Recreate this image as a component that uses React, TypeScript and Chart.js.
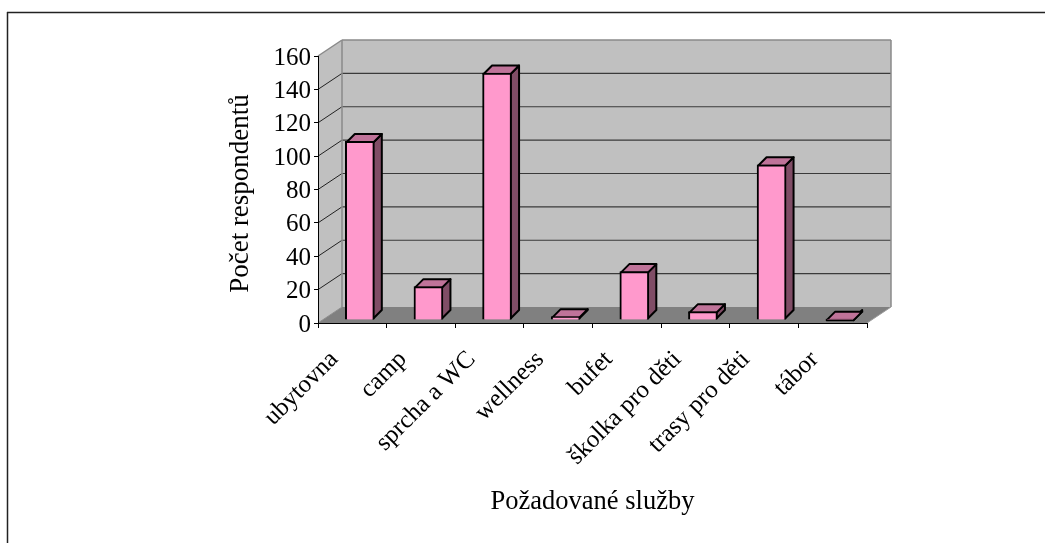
import React, { useEffect, useRef } from "react";
import { Chart, registerables } from "chart.js";

Chart.register(...registerables);

const categories = ["ubytovna", "camp", "sprcha a WC", "wellness", "bufet", "školka pro děti", "trasy pro děti", "tábor"];
const respondents = [107, 20, 148, 2, 29, 5, 93, 0.5];
const valueTicks = [0, 20, 40, 60, 80, 100, 120, 140, 160];
const xTitle = "Požadované služby";
const yTitle = "Počet respondentů";

const FONT = "'Liberation Serif', 'Times New Roman', serif";
const DEPTH_X = 24;
const DEPTH_Y = 16;
const BAR_DX = 7.5;
const BAR_DY = -3;
const BAR_D = 8.5;

function poly(ctx: CanvasRenderingContext2D, pts: number[][], fill: string, stroke?: string, lw = 1) {
  ctx.beginPath();
  pts.forEach(([x, y], i) => (i ? ctx.lineTo(x, y) : ctx.moveTo(x, y)));
  ctx.closePath();
  ctx.fillStyle = fill;
  ctx.fill();
  if (stroke) {
    ctx.strokeStyle = stroke;
    ctx.lineWidth = lw;
    ctx.lineJoin = "round";
    ctx.stroke();
  }
}

function line(ctx: CanvasRenderingContext2D, x1: number, y1: number, x2: number, y2: number, color: string, lw: number) {
  ctx.beginPath();
  ctx.moveTo(x1, y1);
  ctx.lineTo(x2, y2);
  ctx.strokeStyle = color;
  ctx.lineWidth = lw;
  ctx.stroke();
}

const scene3d = {
  id: "scene3d",
  beforeDraw(chart: any) {
    const { ctx, chartArea: a, scales } = chart;
    const y = scales.y;
    ctx.save();
    // outer frame
    line(ctx, 7, 12.5, chart.width, 12.5, "#222", 1.5);
    line(ctx, 7.5, 12, 7.5, chart.height, "#222", 1.5);
    const dx = DEPTH_X;
    const dy = DEPTH_Y;
    // back wall, side wall and floor
    poly(ctx, [[a.left + dx, a.top - dy], [a.right + dx, a.top - dy], [a.right + dx, a.bottom - dy], [a.left + dx, a.bottom - dy]], "#c0c0c0");
    poly(ctx, [[a.left, a.top], [a.left + dx, a.top - dy], [a.left + dx, a.bottom - dy], [a.left, a.bottom]], "#c0c0c0");
    poly(ctx, [[a.left, a.bottom], [a.left + dx, a.bottom - dy], [a.right + dx, a.bottom - dy], [a.right, a.bottom]], "#808080");
    // grid lines on the walls
    valueTicks.forEach((v) => {
      if (v === 0 || v === 160) return;
      const py = y.getPixelForValue(v);
      line(ctx, a.left, py, a.left + dx, py - dy, "#222", 1);
      line(ctx, a.left + dx, py - dy, a.right + dx, py - dy, "#3a3a3a", 1.2);
    });
    // wall edges
    ctx.lineJoin = "miter";
    line(ctx, a.left, a.top, a.left + dx, a.top - dy, "#8a8a8a", 1.5);
    line(ctx, a.left + dx, a.top - dy, a.right + dx, a.top - dy, "#8a8a8a", 1.5);
    line(ctx, a.left + dx, a.top - dy, a.left + dx, a.bottom - dy, "#8a8a8a", 1.5);
    line(ctx, a.right + dx, a.top - dy, a.right + dx, a.bottom - dy, "#8a8a8a", 1.5);
    line(ctx, a.left, a.bottom, a.left + dx, a.bottom - dy, "#8a8a8a", 1);
    line(ctx, a.right, a.bottom, a.right + dx, a.bottom - dy, "#9a9a9a", 1);
    ctx.restore();
  },
  beforeDatasetDraw(chart: any) {
    const { ctx } = chart;
    const meta = chart.getDatasetMeta(0);
    ctx.save();
    meta.data.forEach((bar: any) => {
      const r = bar.x + bar.width / 2 + BAR_DX - 1;
      const l = bar.x - bar.width / 2 + BAR_DX + 1;
      const t = bar.y + BAR_DY + 1;
      const b = bar.base + BAR_DY - 1;
      poly(ctx, [[r, t], [r + BAR_D, t - BAR_D], [r + BAR_D, b - BAR_D], [r, b]], "#804d66", "#000", 2);
      poly(ctx, [[l, t], [l + BAR_D, t - BAR_D], [r + BAR_D, t - BAR_D], [r, t]], "#bf7399", "#000", 2);
    });
    ctx.translate(BAR_DX, BAR_DY);
  },
  afterDatasetDraw(chart: any) {
    chart.ctx.restore();
  },
  afterDraw(chart: any) {
    const { ctx, chartArea: a } = chart;
    ctx.save();
    ctx.translate(241, (a.top + a.bottom) / 2 + 4);
    ctx.rotate(-Math.PI / 2);
    ctx.textAlign = "center";
    ctx.textBaseline = "middle";
    ctx.fillStyle = "#000";
    ctx.font = `27px ${FONT}`;
    ctx.fillText(yTitle, 0, 0);
    ctx.restore();
  },
};

export default function App() {
  const ref = useRef<HTMLCanvasElement>(null);
  useEffect(() => {
    document.body.style.margin = "0";
    const chart = new Chart(ref.current as HTMLCanvasElement, {
      type: "bar",
      data: {
        labels: categories,
        datasets: [
          {
            data: respondents,
            backgroundColor: "#ff99cc",
            borderColor: "#000",
            borderWidth: 2,
            barThickness: 29,
          },
        ],
      },
      options: {
        responsive: false,
        animation: false,
        layout: { padding: { top: 56, right: 178, left: 0, bottom: 0 } },
        plugins: { legend: { display: false }, tooltip: { enabled: false } },
        scales: {
          x: {
            afterFit: (s: any) => {
              s.height = 220;
            },
            grid: { drawOnChartArea: false, color: "#000", tickLength: 5, tickColor: "#000" },
            border: { color: "#000", width: 1 },
            ticks: {
              autoSkip: false,
              minRotation: 45,
              maxRotation: 45,
              padding: 17,
              labelOffset: -18,
              color: "#000",
              font: { family: FONT, size: 25 },
            },
            title: {
              display: true,
              text: xTitle,
              color: "#000",
              font: { family: FONT, size: 26.5 },
              padding: { top: 0, bottom: 25 },
            },
          },
          y: {
            min: 0,
            max: 160,
            afterFit: (s: any) => {
              s.width = 318;
            },
            afterBuildTicks: (s: any) => {
              s.ticks = valueTicks.map((value) => ({ value }));
            },
            grid: { drawOnChartArea: false, color: "#000", tickLength: 4, tickColor: "#000" },
            border: { color: "#000", width: 1 },
            ticks: { padding: 3, labelOffset: 2, color: "#000", font: { family: FONT, size: 25 } },
          },
        },
      },
      plugins: [scene3d],
    } as any);
    return () => chart.destroy();
  }, []);
  return <canvas ref={ref} width={1045} height={543} style={{ display: "block" }} />;
}
